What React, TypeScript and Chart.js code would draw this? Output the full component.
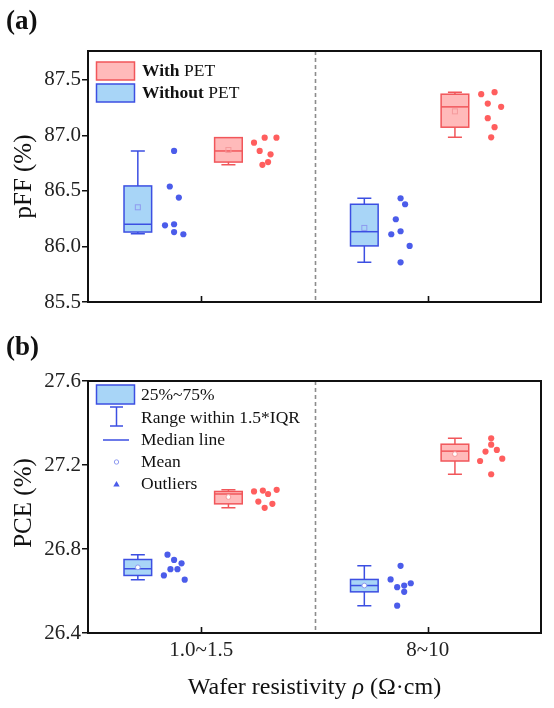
import { useEffect, useRef } from "react";
import { Chart, registerables } from "chart.js";

Chart.register(...registerables);

// ---- data -------------------------------------------------------------
const categories = ["1.0~1.5", "8~10"];
const categoryPositions = [1, 2];
const dividerPosition = 1.5;

const pffTicks = [85.5, 86.0, 86.5, 87.0, 87.5];
const pceTicks = [26.4, 26.8, 27.2, 27.6];

// pFF (%) per wafer, 1.0~1.5 Ω·cm
const pffWithoutLow = [86.86, 86.54, 86.44, 86.2, 86.19, 86.13, 86.11];
const pffWithoutLowJitter = [0, -0.019, 0.021, 0, -0.04, 0, 0.041];
const pffWithLow = [86.935, 86.98, 86.98, 86.86, 86.83, 86.735, 86.76];
const pffWithLowJitter = [-0.047, 0, 0.052, -0.022, 0.026, -0.01, 0.015];
// pFF (%) per wafer, 8~10 Ω·cm
const pffWithoutHigh = [86.434, 86.38, 86.245, 86.11, 86.137, 86.005, 85.857];
const pffWithoutHighJitter = [0, 0.02, -0.021, -0.041, 0, 0.04, 0];
const pffWithHigh = [87.371, 87.389, 87.287, 87.257, 87.155, 87.074, 86.983];
const pffWithHighJitter = [-0.044, 0.015, -0.015, 0.044, -0.015, 0.015, 0];

// pFF box statistics: [lower whisker, Q1, median, Q3, upper whisker]
const pffWithoutLowBox = [86.115, 86.13, 86.2, 86.545, 86.86];
const pffWithLowBox = [86.735, 86.76, 86.86, 86.98, 86.98];
const pffWithoutHighBox = [85.857, 86.005, 86.133, 86.38, 86.434];
const pffWithHighBox = [86.983, 87.074, 87.257, 87.371, 87.389];

// PCE (%) per wafer, 1.0~1.5 Ω·cm
const pceWithoutLow = [26.773, 26.748, 26.732, 26.704, 26.704, 26.674, 26.654];
const pceWithoutLowJitter = [-0.029, 0, 0.033, -0.016, 0.015, -0.045, 0.047];
const pceWithLow = [27.074, 27.078, 27.082, 27.026, 27.062, 27.015, 26.996];
const pceWithLowJitter = [-0.047, -0.008, 0.053, -0.028, 0.015, 0.034, 0];
// PCE (%) per wafer, 8~10 Ω·cm
const pceWithoutHigh = [26.72, 26.655, 26.618, 26.626, 26.637, 26.596, 26.53];
const pceWithoutHighJitter = [0, -0.044, -0.015, 0.016, 0.045, 0.016, -0.015];
const pceWithHigh = [27.327, 27.297, 27.264, 27.272, 27.219, 27.23, 27.156];
const pceWithHighJitter = [0, 0, -0.025, 0.025, -0.049, 0.049, 0];

// PCE box statistics: [lower whisker, Q1, median, Q3, upper whisker]
const pceWithoutLowBox = [26.654, 26.674, 26.706, 26.75, 26.773];
const pceWithLowBox = [26.996, 27.015, 27.062, 27.074, 27.082];
const pceWithoutHighBox = [26.53, 26.596, 26.626, 26.655, 26.72];
const pceWithHighBox = [27.156, 27.219, 27.266, 27.299, 27.327];

// ---- styling ----------------------------------------------------------
const FONT = '"Liberation Serif", "Times New Roman", Times, serif';
const W = 554;

const STYLE = {
  without: { line: "#3c4fe2", fill: "#a8d5f7", dot: "#4b5cea", mean: "#8e9af0" },
  with: { line: "#f1565a", fill: "#ffbaba", dot: "#ff5e5e", mean: "#f59a9c" },
};
const BOX_OFFSET = { without: -0.28, with: 0.12 };
const DOT_OFFSET = { without: -0.12, with: 0.28 };
const BOX_WIDTH = 0.122;
const CAP_WIDTH = 0.062;

type Kind = "with" | "without";
interface Group {
  cat: number;
  kind: Kind;
  box: number[];
  points: number[];
  jitter: number[];
}

const pffGroups: Group[] = [
  { cat: 0, kind: "without", box: pffWithoutLowBox, points: pffWithoutLow, jitter: pffWithoutLowJitter },
  { cat: 0, kind: "with", box: pffWithLowBox, points: pffWithLow, jitter: pffWithLowJitter },
  { cat: 1, kind: "without", box: pffWithoutHighBox, points: pffWithoutHigh, jitter: pffWithoutHighJitter },
  { cat: 1, kind: "with", box: pffWithHighBox, points: pffWithHigh, jitter: pffWithHighJitter },
];
const pceGroups: Group[] = [
  { cat: 0, kind: "without", box: pceWithoutLowBox, points: pceWithoutLow, jitter: pceWithoutLowJitter },
  { cat: 0, kind: "with", box: pceWithLowBox, points: pceWithLow, jitter: pceWithLowJitter },
  { cat: 1, kind: "without", box: pceWithoutHighBox, points: pceWithoutHigh, jitter: pceWithoutHighJitter },
  { cat: 1, kind: "with", box: pceWithHighBox, points: pceWithHigh, jitter: pceWithHighJitter },
];

const mean = (a: number[]) => a.reduce((s, v) => s + v, 0) / a.length;

// ---- plugin: boxes, frame, labels, legends -----------------------------
const panelPlugin = {
  id: "panel",
  beforeDatasetsDraw(chart: any, _a: any, opts: any) {
    const { ctx, chartArea: ca, scales } = chart;
    const xs = scales.x;
    const ys = scales.y;

    // dashed divider between resistivity groups
    ctx.save();
    ctx.strokeStyle = "#8c8c8c";
    ctx.lineWidth = 1.6;
    ctx.setLineDash([4, 3]);
    const dx = Math.round(xs.getPixelForValue(dividerPosition)) + 0.5;
    ctx.beginPath();
    ctx.moveTo(dx, ca.top);
    ctx.lineTo(dx, ca.bottom);
    ctx.stroke();
    ctx.restore();

    for (const g of opts.groups as Group[]) {
      const st = STYLE[g.kind];
      const cx = categoryPositions[g.cat] + BOX_OFFSET[g.kind];
      const xl = xs.getPixelForValue(cx - BOX_WIDTH / 2);
      const xr = xs.getPixelForValue(cx + BOX_WIDTH / 2);
      const xc = xs.getPixelForValue(cx);
      const capL = xs.getPixelForValue(cx - CAP_WIDTH / 2);
      const capR = xs.getPixelForValue(cx + CAP_WIDTH / 2);
      const [lo, q1, med, q3, hi] = g.box.map((v) => ys.getPixelForValue(v));

      ctx.save();
      ctx.strokeStyle = st.line;
      ctx.lineWidth = 1.5;
      // whiskers
      ctx.beginPath();
      ctx.moveTo(xc, q3);
      ctx.lineTo(xc, hi);
      ctx.moveTo(xc, q1);
      ctx.lineTo(xc, lo);
      ctx.moveTo(capL, hi);
      ctx.lineTo(capR, hi);
      ctx.moveTo(capL, lo);
      ctx.lineTo(capR, lo);
      ctx.stroke();
      // box
      ctx.fillStyle = st.fill;
      ctx.fillRect(xl, q3, xr - xl, q1 - q3);
      ctx.strokeRect(xl, q3, xr - xl, q1 - q3);
      // median
      ctx.beginPath();
      ctx.moveTo(xl, med);
      ctx.lineTo(xr, med);
      ctx.stroke();
      // mean marker
      const my = ys.getPixelForValue(mean(g.points));
      ctx.lineWidth = 1;
      ctx.strokeStyle = st.mean;
      if (opts.meanShape === "square") {
        ctx.strokeRect(xc - 2.5, my - 2.5, 5, 5);
      } else {
        ctx.fillStyle = "#ffffff";
        ctx.beginPath();
        ctx.arc(xc, my, 2.4, 0, Math.PI * 2);
        ctx.fill();
        ctx.stroke();
      }
      ctx.restore();
    }
  },
  afterDraw(chart: any, _a: any, opts: any) {
    const { ctx, chartArea: ca, scales } = chart;
    const xs = scales.x;
    ctx.save();
    // frame
    ctx.strokeStyle = "#111";
    ctx.lineWidth = 2;
    ctx.strokeRect(ca.left, ca.top, ca.right - ca.left, ca.bottom - ca.top);
    // inward x ticks
    ctx.lineWidth = 1.6;
    ctx.beginPath();
    for (const p of categoryPositions) {
      const x = Math.round(xs.getPixelForValue(p)) + 0.5;
      ctx.moveTo(x, ca.bottom);
      ctx.lineTo(x, ca.bottom - 6);
    }
    ctx.stroke();

    // panel letter
    ctx.fillStyle = "#111";
    ctx.font = `bold 27px ${FONT}`;
    ctx.textAlign = "left";
    ctx.textBaseline = "middle";
    ctx.fillText(opts.letter, 6, opts.letterY);

    // y title
    ctx.save();
    ctx.translate(24, (ca.top + ca.bottom) / 2 - (opts.titleShift || 0));
    ctx.rotate(-Math.PI / 2);
    ctx.textAlign = "center";
    ctx.textBaseline = "middle";
    ctx.font = `25px ${FONT}`;
    ctx.fillText(opts.yTitle, 0, 0);
    ctx.restore();

    // x title
    if (opts.xTitle) {
      ctx.font = `24px ${FONT}`;
      ctx.textAlign = "center";
      ctx.textBaseline = "middle";
      const parts: [string, boolean][] = [
        ["Wafer resistivity ", false],
        ["ρ", true],
        [" (Ω·cm)", false],
      ];
      let total = 0;
      for (const [t, it] of parts) {
        ctx.font = `${it ? "italic " : ""}24px ${FONT}`;
        total += ctx.measureText(t).width;
      }
      let x = (ca.left + ca.right) / 2 - total / 2;
      ctx.textAlign = "left";
      for (const [t, it] of parts) {
        ctx.font = `${it ? "italic " : ""}24px ${FONT}`;
        ctx.fillText(t, x, opts.xTitleY);
        x += ctx.measureText(t).width;
      }
    }

    // legends
    ctx.textAlign = "left";
    ctx.textBaseline = "middle";
    if (opts.legend === "groups") {
      const rows: [Kind, string, number, number][] = [
        ["with", "With", 62, 71],
        ["without", "Without", 84, 93],
      ];
      for (const [k, bold, top, ty] of rows) {
        const st = STYLE[k];
        ctx.fillStyle = st.fill;
        ctx.strokeStyle = st.line;
        ctx.lineWidth = 1.5;
        ctx.fillRect(96.5, top, 38, 18);
        ctx.strokeRect(96.5, top, 38, 18);
        ctx.fillStyle = "#111";
        ctx.font = `bold 17.5px ${FONT}`;
        ctx.fillText(bold, 142, ty);
        const w = ctx.measureText(bold).width;
        ctx.font = `17.5px ${FONT}`;
        ctx.fillText(" PET", 142 + w, ty);
      }
    } else if (opts.legend === "stats") {
      const st = STYLE.without;
      const cx = 116.5;
      ctx.strokeStyle = st.line;
      ctx.lineWidth = 1.5;
      // box
      ctx.fillStyle = st.fill;
      ctx.fillRect(96.5, 55, 38, 19);
      ctx.strokeRect(96.5, 55, 38, 19);
      // whisker
      ctx.beginPath();
      ctx.moveTo(cx, 77);
      ctx.lineTo(cx, 96);
      ctx.moveTo(cx - 6.5, 77);
      ctx.lineTo(cx + 6.5, 77);
      ctx.moveTo(cx - 6.5, 96);
      ctx.lineTo(cx + 6.5, 96);
      // median
      ctx.moveTo(103, 110);
      ctx.lineTo(129, 110);
      ctx.stroke();
      // mean
      ctx.lineWidth = 1;
      ctx.strokeStyle = st.mean;
      ctx.beginPath();
      ctx.arc(cx, 132, 2.2, 0, Math.PI * 2);
      ctx.stroke();
      // outlier
      ctx.fillStyle = st.dot;
      ctx.beginPath();
      ctx.moveTo(cx, 151);
      ctx.lineTo(cx + 3.2, 156.5);
      ctx.lineTo(cx - 3.2, 156.5);
      ctx.closePath();
      ctx.fill();

      ctx.fillStyle = "#111";
      ctx.font = `17.5px ${FONT}`;
      const labels: [string, number][] = [
        ["25%~75%", 65],
        ["Range within 1.5*IQR", 88],
        ["Median line", 110],
        ["Mean", 132.5],
        ["Outliers", 154.5],
      ];
      for (const [t, y] of labels) ctx.fillText(t, 141, y);
    }
    ctx.restore();
  },
};

function buildConfig(p: {
  groups: Group[];
  ticks: number[];
  min: number;
  max: number;
  xHeight: number;
  showXLabels: boolean;
  plugin: any;
}) {
  const datasets = p.groups.map((g) => ({
    label: `${g.kind} ${categories[g.cat]}`,
    data: g.points.map((v, i) => ({
      x: categoryPositions[g.cat] + DOT_OFFSET[g.kind] + g.jitter[i],
      y: v,
    })),
    pointRadius: 3.1,
    pointBorderWidth: 0,
    backgroundColor: STYLE[g.kind].dot,
    borderColor: STYLE[g.kind].dot,
  }));
  return {
    type: "scatter" as const,
    data: { datasets },
    plugins: [panelPlugin],
    options: {
      responsive: false,
      animation: false as const,
      devicePixelRatio: 1,
      layout: { padding: { left: 0, right: W - 541, top: 51, bottom: 0 } },
      plugins: {
        legend: { display: false },
        tooltip: { enabled: false },
        panel: { ...p.plugin, groups: p.groups },
      },
      scales: {
        x: {
          type: "linear" as const,
          min: 0.5,
          max: 2.5,
          afterBuildTicks: (s: any) => {
            s.ticks = categoryPositions.map((v) => ({ value: v }));
          },
          afterFit: (s: any) => {
            s.height = p.xHeight;
          },
          ticks: {
            display: p.showXLabels,
            padding: 5,
            color: "#222",
            font: { family: FONT, size: 21 },
            callback: (v: any) => {
              const i = categoryPositions.indexOf(Number(v));
              return i >= 0 ? categories[i] : "";
            },
          },
          grid: { display: false, drawTicks: false },
          border: { display: false },
        },
        y: {
          min: p.min,
          max: p.max,
          afterBuildTicks: (s: any) => {
            s.ticks = p.ticks.map((v) => ({ value: v }));
          },
          afterFit: (s: any) => {
            s.width = 88;
          },
          ticks: {
            padding: 1,
            color: "#222",
            font: { family: FONT, size: 21 },
            callback: (v: any) => Number(v).toFixed(1),
          },
          grid: {
            display: true,
            drawOnChartArea: false,
            drawTicks: true,
            tickLength: 6,
            color: "#111",
            lineWidth: 1.5,
          },
          border: { display: false },
        },
      },
    },
  };
}

function Panel({ height, config }: { height: number; config: () => any }) {
  const ref = useRef<HTMLCanvasElement | null>(null);
  useEffect(() => {
    if (!ref.current) return;
    const chart = new Chart(ref.current, config());
    return () => chart.destroy();
  }, []);
  return (
    <canvas
      ref={ref}
      width={W}
      height={height}
      style={{ display: "block", width: W, height }}
    />
  );
}

export default function App() {
  return (
    <div
      style={{
        position: "absolute",
        left: 0,
        top: 0,
        width: W,
        height: 708,
        background: "#fff",
      }}
    >
      <Panel
        height={330}
        config={() =>
          buildConfig({
            groups: pffGroups,
            ticks: pffTicks,
            min: 85.5,
            max: 87.76,
            xHeight: 28,
            showXLabels: false,
            plugin: {
              letter: "(a)",
              letterY: 22,
              yTitle: "pFF (%)",
              legend: "groups",
              meanShape: "square",
            },
          })
        }
      />
      <Panel
        height={378}
        config={() =>
          buildConfig({
            groups: pceGroups,
            ticks: pceTicks,
            min: 26.4,
            max: 27.6,
            xHeight: 75,
            showXLabels: true,
            plugin: {
              letter: "(b)",
              letterY: 18,
              yTitle: "PCE (%)",
              legend: "stats",
              meanShape: "circle",
              xTitle: true,
              xTitleY: 358,
              titleShift: 4,
            },
          })
        }
      />
    </div>
  );
}
